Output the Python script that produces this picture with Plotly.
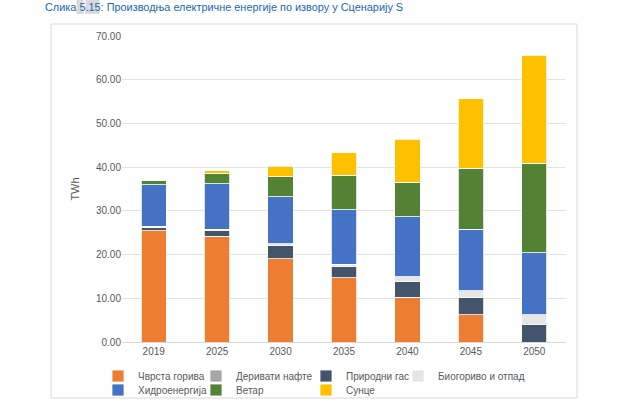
import plotly.graph_objects as go

years = ["2019", "2025", "2030", "2035", "2040", "2045", "2050"]
coal = [25.5, 24.2, 19.1, 14.7, 10.2, 6.2, 0.0]
oil = [0.0, 0.0, 0.0, 0.0, 0.0, 0.0, 0.0]
gas = [0.8, 1.35, 2.9, 2.6, 3.7, 4.0, 4.1]
bio = [0.2, 0.3, 0.5, 0.5, 1.0, 1.5, 2.15]
hydro = [9.5, 10.4, 10.7, 12.4, 13.7, 14.1, 14.15]
wind = [0.9, 2.3, 4.6, 7.9, 7.9, 13.9, 20.5]
solar = [0.0, 0.6, 2.4, 5.2, 9.9, 16.0, 24.7]

names = ["Чврста горива", "Деривати нафте", "Природни гас", "Биогориво и отпад",
         "Хидроенергија", "Ветар", "Сунце"]
series = [coal, oil, gas, bio, hydro, wind, solar]
colors = ["#ED7D31", "#A5A5A5", "#44546A", "#E7E6E6", "#4472C4", "#548235", "#FFC000"]

W, H = 620, 407
ML, MR, MT, MB = 122, 54, 36, 65
PW, PH = W - ML - MR, H - MT - MB


def px_x(x):
    return (x - ML) / PW


def px_y(y):
    return (H - MB - y) / PH


# legend entry positions (pixels: text start, row centre)
leg_pos = [(138, 376), (236, 376), (346, 376), (438, 376),
           (138, 390), (236, 390), (346, 390)]

font_fam = "Liberation Sans"
fig = go.Figure()
layout_legends = {}
for i, (name, vals, col) in enumerate(zip(names, series, colors)):
    lid = "legend" if i == 0 else f"legend{i + 1}"
    fig.add_trace(go.Bar(
        x=years, y=vals, name=name, legend=lid,
        marker=dict(color=col, line=dict(color="white", width=0.8)),
    ))
    lx, ly = leg_pos[i]
    layout_legends[lid] = dict(
        orientation="h", x=px_x(lx - 40), y=px_y(ly), xanchor="left", yanchor="middle",
        font=dict(family=font_fam, size=10, color="#595959"), itemwidth=30,
        bgcolor="rgba(0,0,0,0)", borderwidth=0,
    )

fig.update_layout(
    width=W, height=H,
    margin=dict(l=ML, r=MR, t=MT, b=MB, autoexpand=False),
    barmode="stack", bargap=0.6,
    plot_bgcolor="white", paper_bgcolor="white",
    font=dict(family=font_fam, size=10, color="#595959"),
    xaxis=dict(showgrid=False, showline=True, linecolor="#D9D9D9", linewidth=1,
               ticks="", tickfont=dict(size=10, color="#595959")),
    yaxis=dict(range=[0, 70], dtick=10, tickformat=".2f", showgrid=True,
               gridcolor="#E3E3E3", gridwidth=1, zeroline=False, showline=False,
               tickfont=dict(size=10, color="#595959"),
               title=dict(text="TWh", font=dict(size=11, color="#595959"), standoff=14)),
    showlegend=True,
    **layout_legends,
)

# outer chart frame
fig.add_shape(type="rect", xref="paper", yref="paper",
              x0=px_x(51), x1=px_x(577), y0=px_y(398), y1=px_y(24),
              line=dict(color="#D9D9D9", width=1), fillcolor="rgba(0,0,0,0)", layer="below")

# highlight boxes behind the figure number
for x0, x1 in [(76.5, 83.5), (85.5, 99.5)]:
    fig.add_shape(type="rect", xref="paper", yref="paper",
                  x0=px_x(x0), x1=px_x(x1), y0=px_y(14), y1=px_y(0),
                  line=dict(width=0), fillcolor="#D9D9D9", layer="below")

# caption
fig.add_annotation(xref="paper", yref="paper", x=px_x(43), y=px_y(7), xanchor="left", yanchor="middle",
                   text="Слика 5.15: Производња електричне енергије по извору у Сценарију S",
                   showarrow=False, font=dict(family="Liberation Sans", size=10.9, color="#2068B4"))

fig.write_html("out.html")
